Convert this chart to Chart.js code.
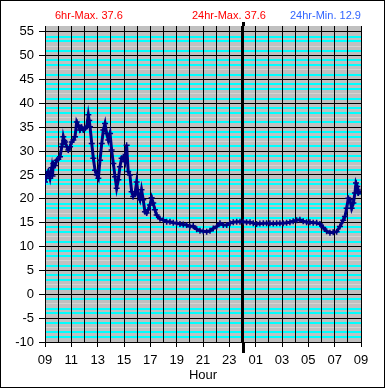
<!DOCTYPE html>
<html>
<head>
<meta charset="utf-8">
<script src="https://cdn.jsdelivr.net/npm/chart.js@4/dist/chart.umd.min.js"></script>
<style>
body { margin: 0; background: #fff; }
</style>
</head>
<body>
<canvas id="myChart" width="385" height="388"></canvas>
<script>
// hours after 09:00 and the temperature read at that time
const hours = [0.00, 0.13, 0.25, 0.38, 0.51, 0.57, 0.63, 0.76, 0.89, 1.01,
  1.14, 1.27, 1.33, 1.39, 1.46, 1.52, 1.65, 1.77, 1.90, 2.03,
  2.15, 2.28, 2.41, 2.53, 2.66, 2.78, 2.91, 3.04, 3.17, 3.29,
  3.36, 3.42, 3.55, 3.67, 3.80, 3.93, 4.05, 4.18, 4.31, 4.43,
  4.56, 4.68, 4.81, 4.94, 5.06, 5.19, 5.32, 5.44, 5.57, 5.69,
  5.82, 5.95, 6.07, 6.20, 6.32, 6.45, 6.58, 6.70, 6.83, 6.96,
  7.08, 7.21, 7.33, 7.46, 7.59, 7.72, 7.84, 7.97, 8.10, 8.22,
  8.35, 8.48, 8.73, 8.98, 9.24, 9.49, 9.74, 10.00, 10.25, 10.50,
  10.76, 11.01, 11.26, 11.52, 11.77, 12.02, 12.28, 12.53, 12.78, 13.04,
  13.29, 13.54, 13.80, 14.05, 14.30, 14.56, 14.81, 15.06, 15.31, 15.57,
  15.82, 16.07, 16.32, 16.58, 16.83, 17.08, 17.34, 17.59, 17.84, 18.09,
  18.35, 18.60, 18.85, 19.11, 19.36, 19.61, 19.87, 20.12, 20.37, 20.63,
  20.88, 21.13, 21.39, 21.64, 21.89, 22.15, 22.40, 22.65, 22.78, 22.91,
  23.04, 23.16, 23.29, 23.42, 23.54, 23.62, 23.72, 23.80, 23.92];
const temps = [23.5, 25.0, 25.7, 24.3, 26.5, 24.8, 27.4, 27.0, 28.1, 28.3,
  28.8, 30.9, 31.5, 33.0, 32.2, 31.9, 30.9, 30.2, 30.9, 31.9,
  32.3, 33.0, 36.1, 35.4, 34.4, 35.0, 34.4, 34.8, 35.1, 37.6,
  36.4, 35.1, 31.6, 28.5, 26.0, 25.0, 24.3, 28.1, 31.6, 34.4,
  35.8, 33.7, 32.3, 33.7, 30.2, 27.4, 24.6, 22.2, 24.0, 26.7,
  28.5, 28.8, 27.8, 31.2, 25.7, 25.0, 21.5, 20.5, 21.0, 23.5,
  20.8, 19.8, 21.9, 19.8, 17.3, 17.0, 17.7, 18.7, 20.2, 19.1,
  17.7, 16.6, 15.8, 15.6, 15.2, 15.2, 15.0, 14.9, 14.7, 14.6,
  14.5, 14.2, 14.3, 13.6, 13.3, 13.2, 13.1, 13.3, 13.8, 14.2,
  14.9, 14.5, 14.5, 14.9, 15.1, 15.2, 15.2, 15.2, 15.1, 15.1,
  14.9, 14.7, 14.8, 14.9, 14.9, 14.9, 14.8, 14.9, 14.9, 14.9,
  15.0, 15.1, 15.3, 15.5, 15.6, 15.3, 15.1, 15.1, 15.0, 15.0,
  14.7, 14.0, 13.2, 12.9, 13.0, 13.1, 14.2, 15.5, 16.3, 18.0,
  20.1, 19.8, 18.0, 19.1, 21.2, 23.3, 22.6, 21.2, 21.5];

const hourLabels = ['09', '11', '13', '15', '17', '19', '21', '23', '01', '03', '05', '07', '09'];
const headerTexts = ['6hr-Max. 37.6', '24hr-Max. 37.6', '24hr-Min. 12.9'];
const headerColors = ['#ff0000', '#ff0000', '#3366ff'];
const midnight = 15; // 09 + 15h

Chart.defaults.font.family = '"Liberation Sans", Arial, sans-serif';

// minor horizontal lines: mostly cyan, one light grey in each band of 5
function minorColor(v){
    const m = Math.abs(v) % 5;
    if (v > 55) return 'rgba(0,0,0,0)';
    if (m === 0) return '#000';
    return m === 2 ? '#d4d4d4' : '#00ffff';
}

// grey plot area, header texts, frame, midnight marker outside the plot
const decor = {
    id: 'decor',
    beforeDraw(chart){
        const {ctx, chartArea: a} = chart;
        ctx.save();
        ctx.fillStyle = '#fff';
        ctx.fillRect(0, 0, chart.width, chart.height);
        ctx.fillStyle = '#c0c0c0';
        ctx.fillRect(a.left, a.top, a.right - a.left, a.bottom - a.top);
        ctx.restore();
    },
    afterDraw(chart){
        const {ctx, chartArea: a} = chart;
        const x = Math.round(chart.scales.x.getPixelForValue(midnight));
        ctx.save();
        ctx.strokeStyle = '#000';
        ctx.lineWidth = 3;
        ctx.beginPath();
        ctx.moveTo(x + 0.5, a.top - 4); ctx.lineTo(x + 0.5, a.top);
        ctx.moveTo(x + 0.5, a.bottom); ctx.lineTo(x + 0.5, a.bottom + 11);
        ctx.stroke();
        ctx.lineWidth = 1;
        ctx.strokeRect(0.5, 0.5, chart.width - 1, chart.height - 1);
        ctx.font = '11px "Liberation Sans", Arial, sans-serif';
        ctx.textAlign = 'left';
        const xs = [55, 192, 290];
        headerTexts.forEach((t, i) => {
            ctx.fillStyle = headerColors[i];
            ctx.fillText(t, xs[i], 19);
        });
        ctx.restore();
    }
};

const ctx = document.getElementById('myChart').getContext('2d');
const myChart = new Chart(ctx, {
    type: 'line',
    data: {
        datasets: [{
            data: hours.map((h, i) => ({x: h, y: temps[i]})),
            borderColor: '#000080',
            backgroundColor: '#000080',
            borderWidth: 3,
            tension: 0,
            pointStyle: 'cross',
            pointRadius: 3,
            pointBorderWidth: 1.5,
            pointBorderColor: '#000080'
        }]
    },
    options: {
        responsive: false,
        animation: false,
        layout: { padding: { left: 0, right: 24, top: 26, bottom: 0 } },
        plugins: { legend: { display: false }, tooltip: { enabled: false } },
        scales: {
            x: {
                type: 'linear',
                min: 0,
                max: 24,
                afterFit(s){ s.height = 46; },
                border: { color: '#000' },
                grid: {
                    z: -1,
                    color: '#000000',
                    lineWidth: c => c.tick.value === midnight ? 3 : 1,
                    tickLength: 5,
                    tickColor: c => c.tick.value % 2 === 0 ? '#000' : 'rgba(0,0,0,0)'
                },
                ticks: {
                    stepSize: 1,
                    autoSkip: false,
                    maxRotation: 0,
                    padding: 6,
                    color: '#000',
                    font: { size: 13 },
                    callback: v => v % 2 === 0 ? hourLabels[v / 2] : ''
                },
                title: { display: true, text: 'Hour', color: '#000', font: { size: 13 }, padding: { top: 2, bottom: 5 } }
            },
            y: {
                min: -10,
                max: 56.2,
                afterFit(s){ s.width = 45; },
                border: { color: '#000' },
                grid: {
                    z: -2,
                    color: c => minorColor(c.tick.value),
                    lineWidth: c => Math.abs(c.tick.value) % 5 === 0 ? 1 : (Math.abs(c.tick.value) % 5 === 2 ? 1 : 2),
                    tickLength: 6,
                    tickColor: c => c.tick.value % 5 === 0 ? '#000' : 'rgba(0,0,0,0)'
                },
                ticks: {
                    stepSize: 1,
                    autoSkip: false,
                    includeBounds: false,
                    padding: 5,
                    color: '#000',
                    font: { size: 13 },
                    callback: v => v % 5 === 0 ? String(v) : ''
                }
            }
        }
    },
    plugins: [decor]
});
</script>
</body>
</html>
